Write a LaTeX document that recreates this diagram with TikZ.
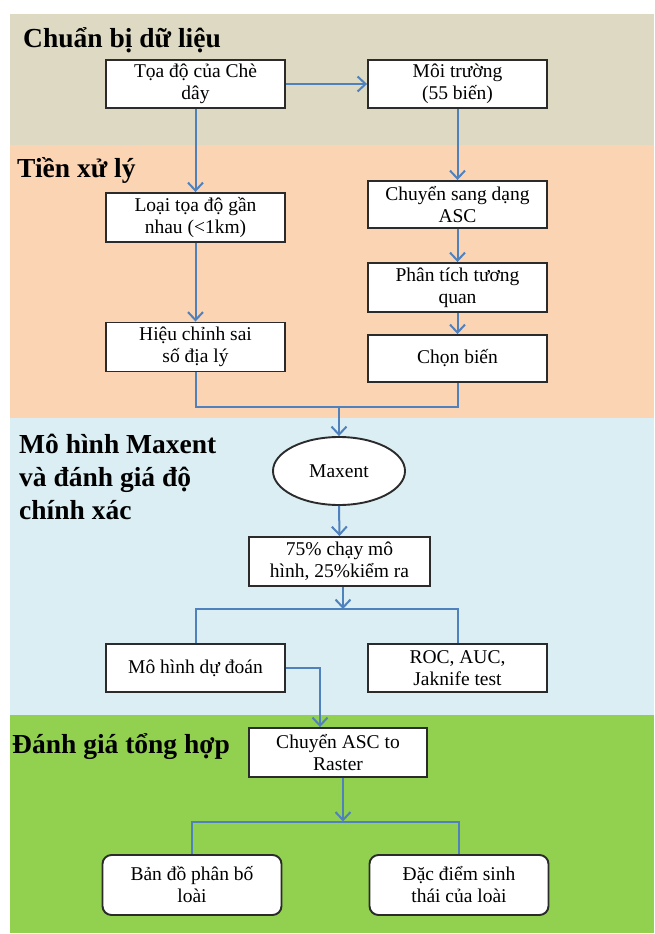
\documentclass[tikz,border=0pt]{standalone}
\usepackage{fontspec}
\setmainfont{Liberation Serif}
\usetikzlibrary{arrows.meta,shapes.geometric}
\definecolor{bandA}{HTML}{DDD9C3}
\definecolor{bandB}{HTML}{FBD4B4}
\definecolor{bandC}{HTML}{DBEEF3}
\definecolor{bandD}{HTML}{92D050}
\definecolor{flow}{HTML}{4F81BD}
\definecolor{edge}{HTML}{2B2B2B}
\begin{document}
\begin{tikzpicture}[x=1pt,y=-1pt,
  box/.style={draw=edge, line width=1.9pt, fill=white, minimum width=179pt, minimum height=48pt,
    align=center, inner sep=2pt, font=\fontsize{19.5}{22}\selectfont},
  rbox/.style={box, rounded corners=9pt, minimum height=60pt},
  oval/.style={draw=edge, line width=1.9pt, fill=white, ellipse, minimum width=132pt, minimum height=68pt,
    inner sep=0pt, font=\fontsize{19.5}{22}\selectfont},
  heading/.style={inner sep=0pt, align=left, font=\fontsize{27.5}{33}\selectfont\bfseries},
  link/.style={draw=flow, line width=2pt},
  flowarrow/.style={link, -{Straight Barb[length=8pt,width=15pt,line width=2pt]}}
]
\useasboundingbox (0,0) rectangle (654,934);
\fill[white] (0,0) rectangle (654,934);
% bands
\fill[bandA] (10,14) rectangle (654,144.5);
\fill[bandB] (10,144.5) rectangle (654,417.5);
\fill[bandC] (10,417.5) rectangle (654,715);
\fill[bandD] (10,715) rectangle (654,933);
% headings
\node[heading, anchor=base west] (h1) at (23,48) {Chuẩn bị dữ liệu};
\node[heading, anchor=base west] (h2) at (17,177) {Tiền xử lý};
\node[heading, anchor=north west] (h3) at (19,434) {Mô hình Maxent\\và đánh giá độ\\chính xác};
\node[heading, anchor=base west] (h4) at (12,753) {Đánh giá tổng hợp};
% boxes
\node[box] (A) at (195.5,84) {Tọa độ của Chè\\dây};
\node[box] (B) at (457.5,84) {Môi trường\\(55 biến)};
\node[box, minimum height=49pt] (C) at (195.5,217.5) {Loại tọa độ gần\\nhau (<1km)};
\node[box, minimum height=47pt] (D) at (457.5,204.5) {Chuyển sang dạng\\ASC};
\node[box, minimum height=49pt] (E) at (457.5,287.5) {Phân tích tương\\quan};
\node[box, minimum height=47pt] (F) at (457.5,358.5) {Chọn biến};
\node[box, minimum height=49pt] (G) at (195.5,347) {Hiệu chỉnh sai\\số địa lý};
\node[oval] (M) at (339,471) {Maxent};
\node[box, minimum width=181pt, minimum height=49pt] (P) at (339.5,561.5) {75\% chạy mô\\hình, 25\%kiểm ra};
\node[box] (H) at (195.5,668) {Mô hình dự đoán};
\node[box] (I) at (457.5,668) {ROC, AUC,\\Jaknife test};
\node[box, minimum width=178pt, minimum height=49pt] (J) at (338,752.5) {Chuyển ASC to\\Raster};
\node[rbox] (K) at (192,885) {Bản đồ phân bố\\loài};
\node[rbox] (L) at (459,885) {Đặc điểm sinh\\thái của loài};
% junction points
\coordinate (m1) at (339,406.5);
\coordinate (s1) at (343,609);
\coordinate (c1) at (320,668);
\coordinate (s2) at (343,821.5);
% connectors
\draw[flowarrow] (A.east) -- (B.west);
\draw[flowarrow] (A.south) -- (C.north);
\draw[flowarrow] (B.south) -- (D.north);
\draw[flowarrow] (C.south) -- (G.north);
\draw[flowarrow] (D.south) -- (E.north);
\draw[flowarrow] (E.south) -- (F.north);
\draw[link] (G.south) |- (m1) -| (F.south);
\draw[flowarrow] (m1) -- (M.north);
\draw[flowarrow] (M.south) -- (P.north);
\draw[flowarrow] (P.south -| s1) -- (s1);
\draw[link] (H.north) |- (s1) -| (I.north);
\draw[flowarrow] (H.east) -- (c1) -- (c1 |- J.north);
\draw[flowarrow] (J.south -| s2) -- (s2);
\draw[link] (K.north) |- (s2) -| (L.north);
\end{tikzpicture}
\end{document}
